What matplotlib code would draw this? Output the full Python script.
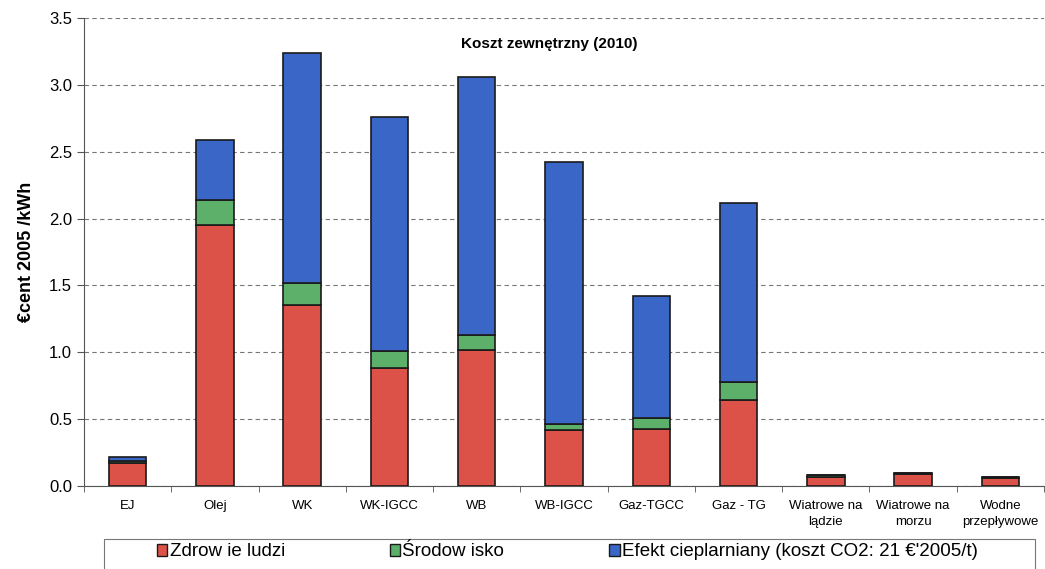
import matplotlib
matplotlib.use("Agg")
import matplotlib.pyplot as plt
import numpy as np
from matplotlib.patches import Patch, Rectangle

plt.rcParams['font.family'] = ['Liberation Sans', 'DejaVu Sans']

categories = ["EJ", "Olej", "WK", "WK-IGCC", "WB", "WB-IGCC", "Gaz-TGCC", "Gaz - TG",
              "Wiatrowe na\nlądzie", "Wiatrowe na\nmorzu", "Wodne\nprzepływowe"]
zdrowie = [0.17, 1.95, 1.35, 0.88, 1.02, 0.42, 0.43, 0.64, 0.07, 0.09, 0.06]
srodowisko = [0.02, 0.19, 0.17, 0.13, 0.11, 0.04, 0.08, 0.14, 0.01, 0.01, 0.01]
efekt = [0.03, 0.45, 1.72, 1.75, 1.93, 1.96, 0.91, 1.34, 0.00, 0.00, 0.00]
series_labels = ["Zdrow ie ludzi", "Środow isko",
                 "Efekt cieplarniany (koszt CO2: 21 €'2005/t)"]
colors = ["#DD5248", "#5DB06A", "#3A66C8"]
yticks = [0.0, 0.5, 1.0, 1.5, 2.0, 2.5, 3.0, 3.5]

fig = plt.figure(figsize=(10.45, 5.69), dpi=100)
ax = fig.add_axes([84/1045, 1-486/569, 960/1045, 468/569])

x = np.arange(len(categories))
w = 0.43
z = np.array(zdrowie); s = np.array(srodowisko); e = np.array(efekt)
ax.bar(x, z, w, color=colors[0], edgecolor="#1a1a1a", linewidth=1.2, zorder=3)
ax.bar(x, s, w, bottom=z, color=colors[1], edgecolor="#1a1a1a", linewidth=1.2, zorder=3)
ax.bar(x, e, w, bottom=z+s, color=colors[2], edgecolor="#1a1a1a", linewidth=1.2, zorder=3)

ax.set_xlim(-0.5, len(categories)-0.5)
ax.set_ylim(0, 3.5)
ax.set_yticks(yticks)
ax.set_yticklabels([f"{v:.1f}" for v in yticks], fontsize=12)
ax.yaxis.grid(True, linestyle=(0, (4, 3)), color="#777777", linewidth=0.8)
ax.set_axisbelow(True)
ax.set_xticks(x)
ax.set_xticklabels(categories, fontsize=9.5, linespacing=1.5)
ax.set_xticks(np.arange(-0.5, len(categories)), minor=True)
ax.tick_params(axis='x', which='major', length=0, pad=10)
ax.tick_params(axis='x', which='minor', length=4, color="#555555")
ax.tick_params(axis='y', length=5, color="#555555")
for sp in ["top", "right"]:
    ax.spines[sp].set_visible(False)
ax.spines["left"].set_color("#555555")
ax.spines["bottom"].set_color("#555555")

ax.set_ylabel("€cent 2005 /kWh", fontsize=13, fontweight="bold", labelpad=10)
ax.text(0.485, 0.945, "Koszt zewnętrzny (2010)", transform=ax.transAxes,
        ha="center", va="center", fontsize=11, fontweight="bold")

# legend frame
fig.patches.append(Rectangle((104/1045, -0.05), (1035-104)/1045, 0.05 + 1-539/569,
                             transform=fig.transFigure, facecolor="none",
                             edgecolor="#777777", linewidth=0.8))

handles = [Patch(facecolor=c, edgecolor="#1a1a1a", linewidth=1) for c in colors]
fs = 13.5
leg = fig.legend(handles, series_labels, loc="center left",
                 bbox_to_anchor=(157/1045, 1-552/569),
                 ncol=3, fontsize=fs, frameon=False,
                 handlelength=0.55, handleheight=0.55,
                 handletextpad=0.12, borderaxespad=0, borderpad=0,
                 columnspacing=5.6)

fig.savefig("out.png", dpi=100)
